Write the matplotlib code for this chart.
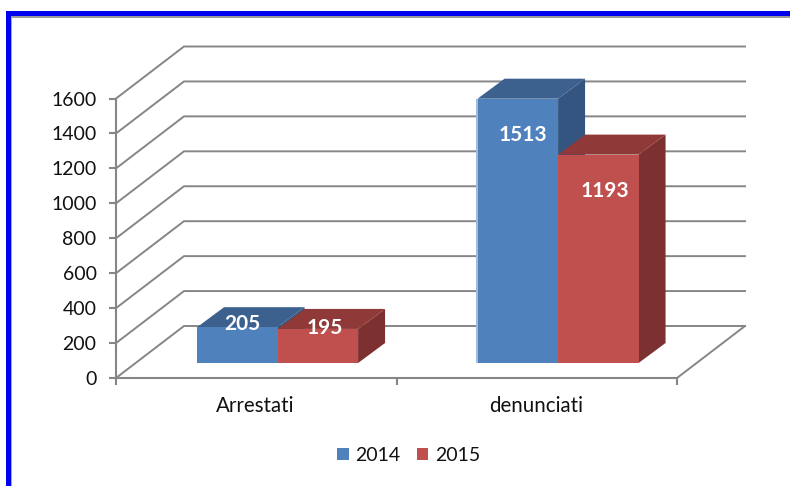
import matplotlib.pyplot as plt
from matplotlib.patches import Polygon, Rectangle

plt.rcParams["font.family"] = ["Lato", "DejaVu Sans"]

categories = ["Arrestati", "denunciati"]
years = ["2014", "2015"]
values_2014 = [205, 1513]
values_2015 = [195, 1193]
yticks = [0, 200, 400, 600, 800, 1000, 1200, 1400, 1600]

W, H = 790, 486
fig = plt.figure(figsize=(W / 100, H / 100), dpi=100)

# frame
fig.patches.append(Rectangle((11, 0), 1, H - 16, transform=None, fc="#a8a8b0", ec="none"))
fig.patches.append(Rectangle((11, H - 18), W - 11, 2, transform=None, fc="#9a9a9a", ec="none"))
fig.patches.append(Rectangle((6, 0), 5, H - 11, transform=None, fc="#0000f0", ec="none"))
fig.patches.append(Rectangle((6, H - 16), W - 6, 5, transform=None, fc="#0000f0", ec="none"))

# axes = front plane of the 3d box
left, right, bottom, top = 116, 677, 378, 98.5
ax = fig.add_axes([left / W, 1 - bottom / H, (right - left) / W, (bottom - top) / H])
ax.set_xlim(0, 2)
ax.set_ylim(0, 1600)
ax.patch.set_visible(False)
for s in ["top", "right"]:
    ax.spines[s].set_visible(False)
for s in ["left", "bottom"]:
    ax.spines[s].set_color("#868686")
    ax.spines[s].set_linewidth(1.5)
ax.set_yticks(yticks)
ax.set_xticks([0, 1, 2])
ax.set_xticklabels([])
ax.tick_params(axis="both", color="#868686", width=1.5, length=5, labelsize=14, labelcolor="#111111")
ax.tick_params(axis="y", pad=9)

px = 2 / (right - left)
py = 1600 / (bottom - top)
back_x = 68 * px
back_y = 52 * py
grid = "#868686"

# side wall + back wall lines
for v in yticks:
    ax.plot([0, back_x, 2 + back_x], [v, v + back_y, v + back_y], color=grid, lw=1.4,
            clip_on=False, zorder=1, solid_joinstyle="miter")
ax.plot([2, 2 + back_x], [0, back_y], color=grid, lw=1.4, clip_on=False, zorder=1)

# bars
bar_w = 80.5 * px
floor_y = 15 * py
depth_x = 27 * px
depth_y = 20 * py
starts = [0.289, 1.289]
front = {"2014": "#4f81bd", "2015": "#c0504d"}
roof = {"2014": "#3d618f", "2015": "#8f3a38"}
side = {"2014": "#33557f", "2015": "#7c3130"}


def bar3d(x, v, year, z):
    y0, y1 = floor_y, floor_y + v
    x1 = x + bar_w
    ax.add_patch(Polygon([(x1, y0), (x1 + depth_x, y0 + depth_y), (x1 + depth_x, y1 + depth_y), (x1, y1)],
                         fc=side[year], ec="none", clip_on=False, zorder=z))
    ax.add_patch(Polygon([(x, y1), (x + depth_x, y1 + depth_y), (x1 + depth_x, y1 + depth_y), (x1, y1)],
                         fc=roof[year], ec="none", clip_on=False, zorder=z))
    ax.add_patch(Rectangle((x, y0), bar_w, v, fc=front[year], ec="none", clip_on=False, zorder=z))


def value_label(x, y, v):
    ax.text(x, y, str(v), color="white", fontsize=15, fontweight="bold", ha="center", va="center", zorder=6)


# tall bars have the label lower down, short ones sit on the roof
for i, x in enumerate(starts):
    bar3d(x, values_2014[i], "2014", 3)
    bar3d(x + bar_w, values_2015[i], "2015", 4)
    off_a, off_b = (18, 5) if i == 0 else (-208, -207)
    value_label(x + bar_w / 2 + 5 * px, floor_y + values_2014[i] + off_a, values_2014[i])
    value_label(x + bar_w * 1.5 + 7 * px, floor_y + values_2015[i] + off_b, values_2015[i])

# thin light edge on the tall blue bar
ax.add_patch(Rectangle((starts[1] - 1.5 * px, floor_y), 1.5 * px, values_2014[1], fc="#a5bcd8", ec="none",
                       clip_on=False, zorder=3))

# category labels
for i, c in enumerate(categories):
    ax.text(i + 0.5 - 1 * px, -(27.5 * py), c, ha="center", va="center", fontsize=14.8, color="#111111",
            clip_on=False)

# legend
handles = [Rectangle((0, 0), 1, 1, fc=front[y], ec="none") for y in years]
leg = fig.legend(handles, years, loc="center", bbox_to_anchor=(409 / W, 1 - 455 / H), ncol=2, frameon=False,
                 fontsize=14, handlelength=0.57, handleheight=0.57, handletextpad=0.36, columnspacing=0.85,
                 labelcolor="#111111")

fig.savefig("out.png", dpi=100)
